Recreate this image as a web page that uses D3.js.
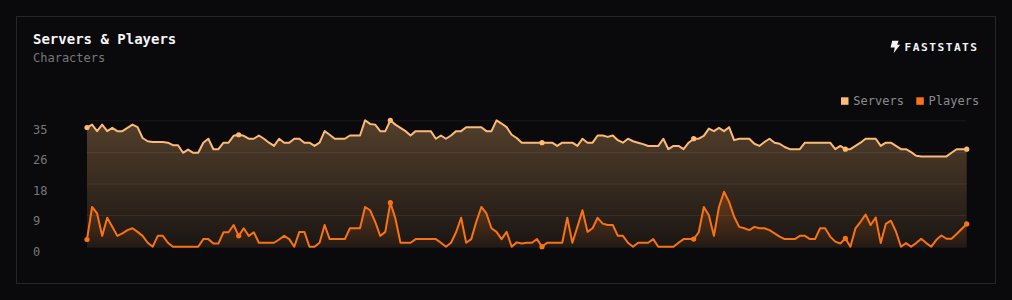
<!DOCTYPE html>
<html>
<head>
<meta charset="utf-8">
<script src="https://cdn.jsdelivr.net/npm/d3@7"></script>
<style>
  html, body { margin: 0; padding: 0; background: #0a0a0c; }
  svg { display: block; }
</style>
</head>
<body>
<svg id="chart" width="1012" height="300"></svg>
<script>
// ---- data ----
const seriesNames = ["Servers", "Players"];
const servers = [
  33.0,33.8,32.0,33.8,32.0,32.9,32.0,32.0,32.9,33.8,33.1,30.1,29.2,29.0,29.0,29.0,28.8,28.1,28.1,26.0,
  26.9,26.0,26.0,28.8,29.9,27.0,27.0,28.8,28.8,30.7,31.0,30.7,29.9,29.9,30.8,29.9,28.8,27.9,29.9,28.8,
  28.8,29.9,29.9,28.8,28.8,27.9,28.8,32.0,31.0,29.9,29.9,29.9,30.8,30.8,30.8,35.0,34.0,33.8,32.0,32.0,
  35.0,33.8,32.9,32.0,30.8,32.0,32.0,32.0,32.0,29.9,30.8,29.9,30.8,32.0,32.0,33.1,33.1,33.1,33.1,32.0,
  32.0,35.0,34.1,33.1,31.0,30.1,28.8,28.8,28.8,28.8,28.8,28.8,28.8,27.9,28.8,28.8,28.8,27.9,29.9,28.8,
  28.8,30.8,30.8,30.4,30.8,29.5,28.8,29.9,29.2,28.8,28.4,27.9,27.9,27.9,29.9,27.0,27.9,27.9,27.0,28.8,
  29.9,29.9,30.7,32.7,32.0,32.9,32.0,33.1,29.5,29.9,29.9,29.9,28.5,27.9,29.0,29.9,28.8,28.5,27.6,27.0,
  27.0,27.0,28.8,28.8,28.8,28.8,28.8,28.8,27.0,27.9,27.0,27.0,27.9,28.8,29.9,29.9,29.9,27.9,28.8,28.8,
  27.9,27.0,27.0,26.2,25.2,25.0,25.0,25.0,25.0,25.0,25.0,26.0,27.0,27.0,27.0
];
const players = [
  2.0,11.0,9.2,3.0,8.0,5.5,3.0,3.7,4.6,5.1,4.1,3.0,1.1,0,3.0,3.0,1.1,0,0,0,
  0,0,0,2.1,2.1,0.9,0.9,4.0,4.0,6.0,3.0,5.1,3.0,4.0,1.1,1.1,1.1,1.1,2.0,3.0,
  2.1,0,4.1,4.1,0,0,1.1,6.0,2.1,2.1,2.1,2.1,5.1,5.1,5.1,11.0,10.1,6.9,3.0,4.1,
  12.2,7.8,1.1,1.1,1.1,2.1,2.1,2.1,2.1,2.1,1.1,0,1.1,4.0,8.0,1.1,2.1,6.9,11.0,9.2,
  5.1,4.1,2.1,4.1,0,1.2,0.9,1.1,1.1,2.1,0,1.1,1.1,1.1,1.1,8.0,1.1,5.5,10.1,4.1,
  5.1,8.0,6.4,6.0,6.0,3.0,3.0,1.1,0,1.1,1.1,1.1,2.1,0,0,0,0,1.1,2.1,2.1,
  2.1,4.0,11.0,8.7,3.0,11.0,15.2,12.4,8.3,5.5,5.1,4.6,5.5,5.1,5.1,4.6,3.7,2.8,2.1,2.1,
  2.1,3.0,3.0,2.1,2.1,5.1,5.1,2.8,1.4,0.9,2.3,0,5.1,6.9,8.9,6.0,8.1,1.0,6.3,7.2,
  4.2,0,1.0,0,1.0,2.2,1.0,0,1.9,3.1,2.2,2.2,3.5,4.9,6.3
];
const markerIndex = [0, 30, 60, 90, 120, 150, 174];
const yTickValues = [0, 8.75, 17.5, 26.25, 35];
const yMax = 35;
const title = "Servers & Players";
const subtitle = "Characters";
const brand = "FASTSTATS";

// ---- layout ----
const W = 1012, H = 300;
const plot = { left: 87, right: 966.7, top: 120.3, bottom: 246.7 };
const colors = { servers: "#fdba74", players: "#f97316" };
const mono = "'DejaVu Sans Mono', 'Liberation Mono', monospace";

const svg = d3.select("#chart");

// card
svg.append("rect").attr("x", 16.5).attr("y", 16.5).attr("width", 979).attr("height", 267)
  .attr("fill", "#0a0a0c").attr("stroke", "#26262a").attr("stroke-width", 1);

// title & subtitle
svg.append("text").attr("x", 33).attr("y", 44.3).text(title)
  .attr("font-family", mono).attr("font-size", 14).attr("font-weight", "bold").attr("fill", "#f4f4f5");
svg.append("text").attr("x", 33).attr("y", 61.5).text(subtitle)
  .attr("font-family", mono).attr("font-size", 12).attr("fill", "#77777c");

// brand
svg.append("path")
  .attr("d", "M892.2,40.7 L898.6,40.7 L897.2,44.8 L900.2,44.8 L893.6,53.3 L894.8,47.6 L890.6,47.6 Z")
  .attr("fill", "#f4f4f5");
svg.append("text").attr("x", 978.6).attr("y", 51).text(brand)
  .attr("font-family", mono).attr("font-size", 11.2).attr("font-weight", "bold")
  .attr("letter-spacing", 1.5).attr("text-anchor", "end").attr("fill", "#f4f4f5");

// legend
const legend = [
  { name: seriesNames[0], color: colors.servers, x: 841 },
  { name: seriesNames[1], color: colors.players, x: 916.3 }
];
legend.forEach(l => {
  svg.append("rect").attr("x", l.x).attr("y", 97.3).attr("width", 7.5).attr("height", 7.5).attr("fill", l.color);
  svg.append("text").attr("x", l.x + 12.3).attr("y", 105.2).text(l.name)
    .attr("font-family", mono).attr("font-size", 12).attr("fill", "#8a8a8f");
});

// scales
const n = servers.length;
const x = d3.scaleLinear().domain([0, n - 1]).range([plot.left, plot.right]);
const y = d3.scaleLinear().domain([0, yMax]).range([plot.bottom, plot.top]);
const yLabel = d3.scaleLinear().domain([0, yMax]).range([250.8, 129.2]);

// gradients
const defs = svg.append("defs");
function grad(id, color, o1, o2) {
  const g = defs.append("linearGradient").attr("id", id).attr("x1", 0).attr("y1", 0).attr("x2", 0).attr("y2", 1);
  g.append("stop").attr("offset", "0%").attr("stop-color", color).attr("stop-opacity", o1);
  g.append("stop").attr("offset", "100%").attr("stop-color", color).attr("stop-opacity", o2);
}
grad("gServers", colors.servers, 0.30, 0.07);
grad("gPlayers", colors.players, 0.28, 0.04);

// areas
const area = d3.area().x((d, i) => x(i)).y0(y(0)).y1(d => y(d)).curve(d3.curveLinear);
svg.append("path").datum(servers).attr("d", area).attr("fill", "url(#gServers)");
svg.append("path").datum(players).attr("d", area).attr("fill", "url(#gPlayers)");

// gridlines
const grid = svg.append("g").attr("transform", `translate(${plot.left},0)`)
  .call(d3.axisLeft(y).tickValues(yTickValues).tickSize(-(plot.right - plot.left)).tickFormat(""));
grid.select(".domain").remove();
grid.selectAll("line").attr("stroke", "#ffffff").attr("stroke-opacity", 0.07);

// y labels
const yAxis = svg.append("g").attr("transform", "translate(33,0)")
  .call(d3.axisRight(yLabel).tickValues(yTickValues).tickSize(0).tickPadding(0).tickFormat(d => Math.round(d)));
yAxis.select(".domain").remove();
yAxis.selectAll("text").attr("font-family", mono).attr("font-size", 12).attr("fill", "#77777c")
  .attr("x", 0).attr("dy", "0.36em").attr("text-anchor", "start");

// lines
const line = d3.line().x((d, i) => x(i)).y(d => y(d)).curve(d3.curveLinear);
svg.append("path").datum(servers).attr("d", line).attr("fill", "none")
  .attr("stroke", colors.servers).attr("stroke-width", 2).attr("stroke-linejoin", "round");
svg.append("path").datum(players).attr("d", line).attr("fill", "none")
  .attr("stroke", colors.players).attr("stroke-width", 2).attr("stroke-linejoin", "round");

// markers
[[servers, colors.servers], [players, colors.players]].forEach(([data, c]) => {
  svg.append("g").selectAll("circle").data(markerIndex).join("circle")
    .attr("cx", i => x(i)).attr("cy", i => y(data[i])).attr("r", 2.6).attr("fill", c);
});
</script>
</body>
</html>
